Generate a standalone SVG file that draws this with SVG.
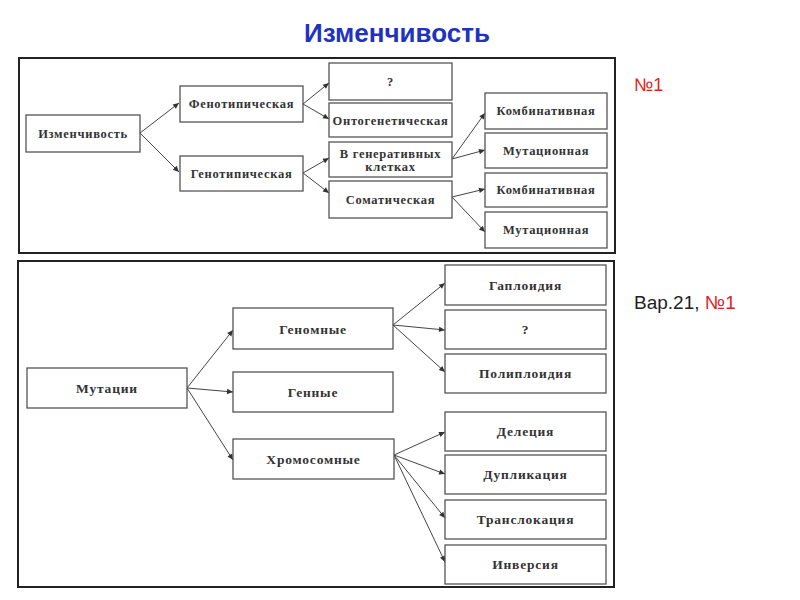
<svg xmlns="http://www.w3.org/2000/svg" width="800" height="600" viewBox="0 0 800 600">
<defs>
<style>
.frame{fill:none;stroke:#222;stroke-width:2}
.box{fill:#fff;stroke:#555;stroke-width:1.3}
.t{font-family:"Liberation Serif","DejaVu Serif",serif;font-size:12.5px;font-weight:bold;fill:#333;text-anchor:middle;letter-spacing:0.7px}
.tb{font-family:"Liberation Serif","DejaVu Serif",serif;font-size:13.5px;font-weight:bold;fill:#333;text-anchor:middle;letter-spacing:0.8px}
.c line{stroke:#444;stroke-width:1;marker-end:url(#ah)}
</style>
<marker id="ah" viewBox="0 0 10 10" refX="10" refY="5" markerWidth="8" markerHeight="6" markerUnits="userSpaceOnUse" orient="auto">
<path d="M0,0.5 L10,5 L0,9.5 z" fill="#333"/>
</marker>
</defs>
<rect width="800" height="600" fill="#fff"/>
<text x="397" y="42" font-family="Liberation Sans, Arial, sans-serif" font-size="26" font-weight="bold" fill="#1f33c0" text-anchor="middle">Изменчивость</text>
<text x="634" y="91" font-family="Liberation Sans, Arial, sans-serif" font-size="18" fill="#e41e1e">№1</text>
<text x="634" y="309" font-family="Liberation Sans, Arial, sans-serif" font-size="19" fill="#222">Вар.21, <tspan fill="#e41e1e">№1</tspan></text>

<rect class="frame" x="19" y="58" width="596" height="195"/>
<rect class="frame" x="18" y="261" width="596" height="326"/>

<g class="c">
<line x1="140" y1="133" x2="179" y2="103"/>
<line x1="140" y1="133" x2="179" y2="172"/>
<line x1="303" y1="104" x2="329" y2="83"/>
<line x1="303" y1="104" x2="329" y2="119"/>
<line x1="303" y1="173" x2="329" y2="158"/>
<line x1="303" y1="173" x2="329" y2="193"/>
<line x1="452" y1="159" x2="485" y2="113"/>
<line x1="452" y1="159" x2="485" y2="150"/>
<line x1="452" y1="197" x2="485" y2="189"/>
<line x1="452" y1="197" x2="485" y2="232"/>
<line x1="187" y1="388" x2="233" y2="330"/>
<line x1="187" y1="388" x2="233" y2="392"/>
<line x1="187" y1="388" x2="233" y2="460"/>
<line x1="393" y1="325" x2="445" y2="283"/>
<line x1="393" y1="325" x2="445" y2="330"/>
<line x1="393" y1="325" x2="445" y2="372"/>
<line x1="394" y1="455" x2="445" y2="432"/>
<line x1="394" y1="455" x2="445" y2="474"/>
<line x1="394" y1="455" x2="445" y2="518"/>
<line x1="394" y1="455" x2="445" y2="562"/>
</g>

<g id="n-izm"><rect class="box" x="26" y="115" width="114" height="37"/><text class="t" x="83" y="138">Изменчивость</text></g>
<g id="n-feno"><rect class="box" x="180" y="86" width="123" height="36"/><text class="t" x="241.5" y="108">Фенотипическая</text></g>
<g id="n-geno"><rect class="box" x="180" y="156" width="123" height="35"/><text class="t" x="241.5" y="178">Генотипическая</text></g>
<g id="n-q1"><rect class="box" x="329" y="63" width="123" height="37"/><text class="t" x="390.5" y="86">?</text></g>
<g id="n-onto"><rect class="box" x="329" y="103" width="123" height="34"/><text class="t" x="390.5" y="125">Онтогенетическая</text></g>
<g id="n-gener"><rect class="box" x="329" y="142" width="123" height="35"/><text class="t" x="390.5" y="158">В генеративных</text><text class="t" x="390.5" y="171">клетках</text></g>
<g id="n-soma"><rect class="box" x="329" y="181" width="123" height="37"/><text class="t" x="390.5" y="204">Соматическая</text></g>
<g id="n-komb1"><rect class="box" x="485" y="93" width="122" height="36"/><text class="t" x="546" y="115">Комбинативная</text></g>
<g id="n-mut1"><rect class="box" x="485" y="133" width="122" height="35"/><text class="t" x="546" y="155">Мутационная</text></g>
<g id="n-komb2"><rect class="box" x="485" y="173" width="122" height="34"/><text class="t" x="546" y="194">Комбинативная</text></g>
<g id="n-mut2"><rect class="box" x="485" y="212" width="122" height="36"/><text class="t" x="546" y="234">Мутационная</text></g>

<g id="n-mutacii"><rect class="box" x="27" y="368" width="160" height="40"/><text class="tb" x="107" y="393">Мутации</text></g>
<g id="n-genom"><rect class="box" x="233" y="308" width="160" height="41"/><text class="tb" x="313" y="334">Геномные</text></g>
<g id="n-gennye"><rect class="box" x="233" y="372" width="160" height="40"/><text class="tb" x="313" y="397">Генные</text></g>
<g id="n-hrom"><rect class="box" x="233" y="439" width="161" height="40"/><text class="tb" x="313.5" y="464">Хромосомные</text></g>
<g id="n-gapl"><rect class="box" x="445" y="265" width="161" height="40"/><text class="tb" x="525.5" y="290">Гаплоидия</text></g>
<g id="n-q2"><rect class="box" x="445" y="310" width="161" height="39"/><text class="tb" x="525.5" y="334">?</text></g>
<g id="n-polipl"><rect class="box" x="445" y="354" width="161" height="39"/><text class="tb" x="525.5" y="378">Полиплоидия</text></g>
<g id="n-delec"><rect class="box" x="445" y="412" width="161" height="39"/><text class="tb" x="525.5" y="436">Делеция</text></g>
<g id="n-dupl"><rect class="box" x="445" y="455" width="161" height="39"/><text class="tb" x="525.5" y="479">Дупликация</text></g>
<g id="n-transl"><rect class="box" x="445" y="500" width="161" height="39"/><text class="tb" x="525.5" y="524">Транслокация</text></g>
<g id="n-invers"><rect class="box" x="445" y="545" width="161" height="39"/><text class="tb" x="525.5" y="569">Инверсия</text></g>
</svg>
